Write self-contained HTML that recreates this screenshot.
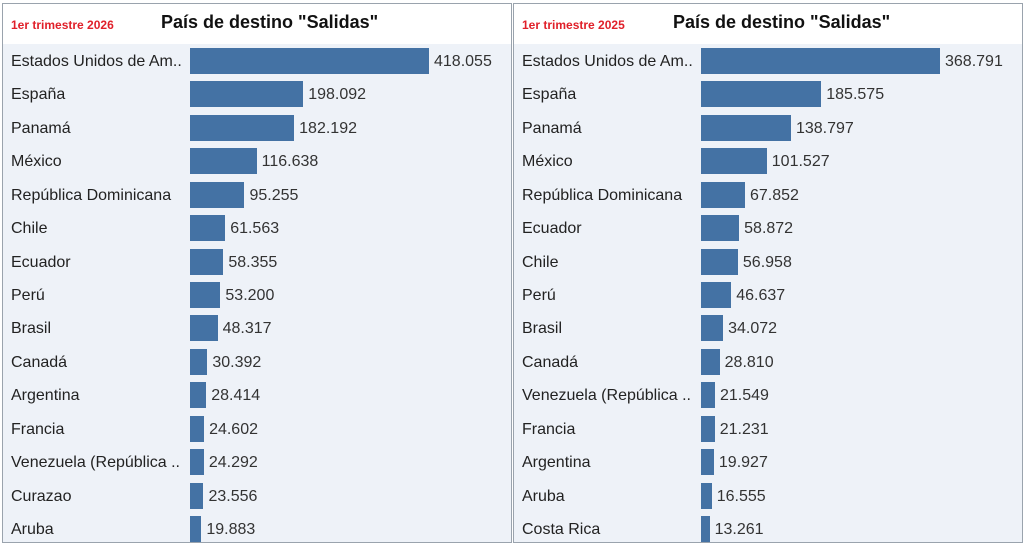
<!DOCTYPE html><html><head><style>
body{margin:0;width:1024px;height:546px;background:#fff;font-family:"Liberation Sans",sans-serif;position:relative;overflow:hidden}
.p{position:absolute;top:3px;height:540px;border:1px solid #9aa3ad;background:#eef2f8;box-sizing:border-box}
.h{position:absolute;left:0;right:0;top:0;height:40px;background:#fff}
.r{position:absolute;left:8px;top:14px;color:#e0202a;font-weight:bold;font-size:12px}
.t{position:absolute;top:8px;font-weight:bold;font-size:18px;color:#111}
.l{position:absolute;font-size:16px;color:#222;left:8px}
.b{position:absolute;height:26px;background:#4472a4}
.v{position:absolute;font-size:16px;color:#333}
</style></head><body>
<div class="p" id="a" style="left:2px;width:510px"><div class="h"></div><div class="r">1er trimestre 2026</div><div class="t" style="left:158px">País de destino "Salidas"</div></div>
<div class="p" id="c" style="left:513px;width:510px"><div class="h"></div><div class="r">1er trimestre 2025</div><div class="t" style="left:159px">País de destino "Salidas"</div></div>
<script>
function fmt(x){return Math.floor(x/1000)+'.'+String(x%1000).padStart(3,'0');}
function f(id,bx,mx,d){var p=document.getElementById(id);d.forEach(function(e,i){var cy=57+i*33.43;var w=e[1]*239/mx;
p.insertAdjacentHTML('beforeend','<div class="l" style="top:'+(cy-8)+'px">'+e[0]+'</div><div class="b" style="left:'+bx+'px;top:'+(cy-13)+'px;width:'+w+'px"></div><div class="v" style="left:'+(bx+w+5)+'px;top:'+(cy-8)+'px">'+fmt(e[1])+'</div>');});}
f('a',187,418055,[["Estados Unidos de Am..",418055],["España",198092],["Panamá",182192],["México",116638],["República Dominicana",95255],["Chile",61563],["Ecuador",58355],["Perú",53200],["Brasil",48317],["Canadá",30392],["Argentina",28414],["Francia",24602],["Venezuela (República ..",24292],["Curazao",23556],["Aruba",19883]]);
f('c',187,368791,[["Estados Unidos de Am..",368791],["España",185575],["Panamá",138797],["México",101527],["República Dominicana",67852],["Ecuador",58872],["Chile",56958],["Perú",46637],["Brasil",34072],["Canadá",28810],["Venezuela (República ..",21549],["Francia",21231],["Argentina",19927],["Aruba",16555],["Costa Rica",13261]]);
</script>
</body></html>
